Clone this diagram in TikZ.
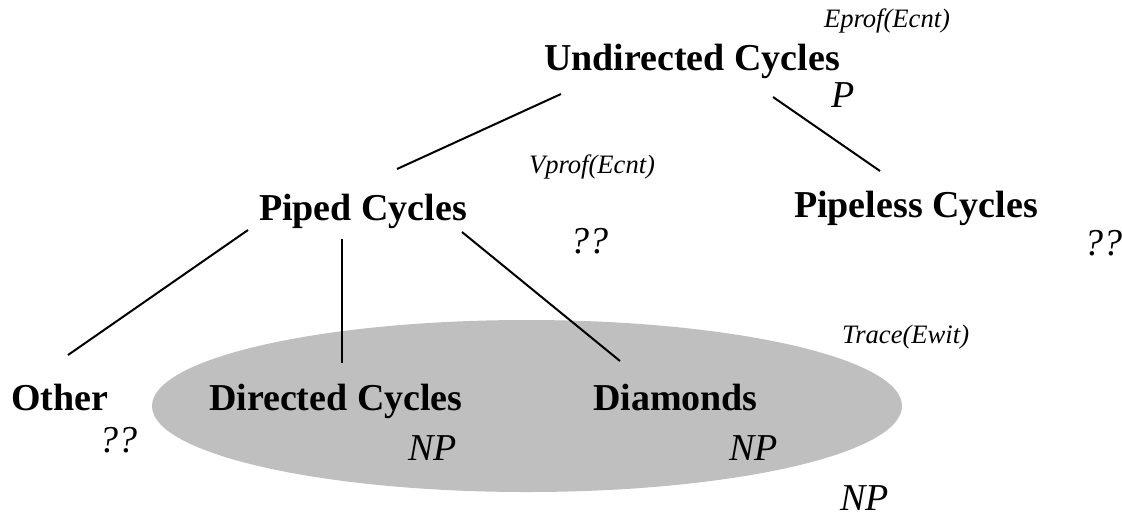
\documentclass[tikz,border=0pt]{standalone}
\usepackage{fontspec}
\setmainfont{Liberation Serif}
\definecolor{npgray}{gray}{0.75}
\tikzset{
  cls/.style={anchor=base west, inner sep=0pt, text depth=0pt, font=\bfseries\fontsize{19}{23}\selectfont},
  cplx/.style={anchor=base west, inner sep=0pt, font=\itshape\fontsize{19}{23}\selectfont},
  algo/.style={anchor=base west, inner sep=0pt, font=\itshape\fontsize{13.3}{16}\selectfont},
}
\begin{document}
\begin{tikzpicture}[x=0.5pt, y=-0.5pt, line width=1pt]
    \useasboundingbox (0,0) rectangle (1122,516);
    \fill[npgray] (527,406) ellipse [x radius=375, y radius=86];

    % classes of cycles
    \node[cls] (ucyc) at (543,70) {Undirected Cycles};
    \node[cls] (pcyc) at (258,220) {Piped Cycles};
    \node[cls] (plcyc) at (793,217) {Pipeless Cycles};
    \node[cls] (other) at (10,410) {Other};
    \node[cls] (dcyc) at (208,410) {Directed Cycles};
    \node[cls] (diam) at (592,410) {Diamonds};

    % complexity
    \node[cplx] (ucycC) at (830,107) {P};
    \node[cplx] (pcycC) at (569,253) {??};
    \node[cplx] (plcycC) at (1083,255) {??};
    \node[cplx] (otherC) at (98,452) {??};
    \node[cplx] (dcycC) at (407,460) {NP};
    \node[cplx] (diamC) at (728,460) {NP};
    \node[cplx] (ovalC) at (839,510) {NP};

    % algorithms
    \node[algo] (ucycA) at (823,27) {Eprof(Ecnt)};
    \node[algo] (pcycA) at (528,173) {Vprof(Ecnt)};
    \node[algo] (ovalA) at (841,343) {Trace(Ewit)};

    \draw ([shift={(18,23)}]ucyc.south west) -- ([shift={(139,-52)}]pcyc.south west);
    \draw ([shift={(230,26)}]ucyc.south west) -- ([shift={(87,-47)}]plcyc.south west);
    \draw ([shift={(-10,9)}]pcyc.south west) -- ([shift={(58,-56)}]other.south west);
    \draw ([shift={(84,18)}]pcyc.south west) -- ([shift={(134,-48)}]dcyc.south west);
    \draw ([shift={(204,11)}]pcyc.south west) -- ([shift={(28,-50)}]diam.south west);
\end{tikzpicture}
\end{document}
